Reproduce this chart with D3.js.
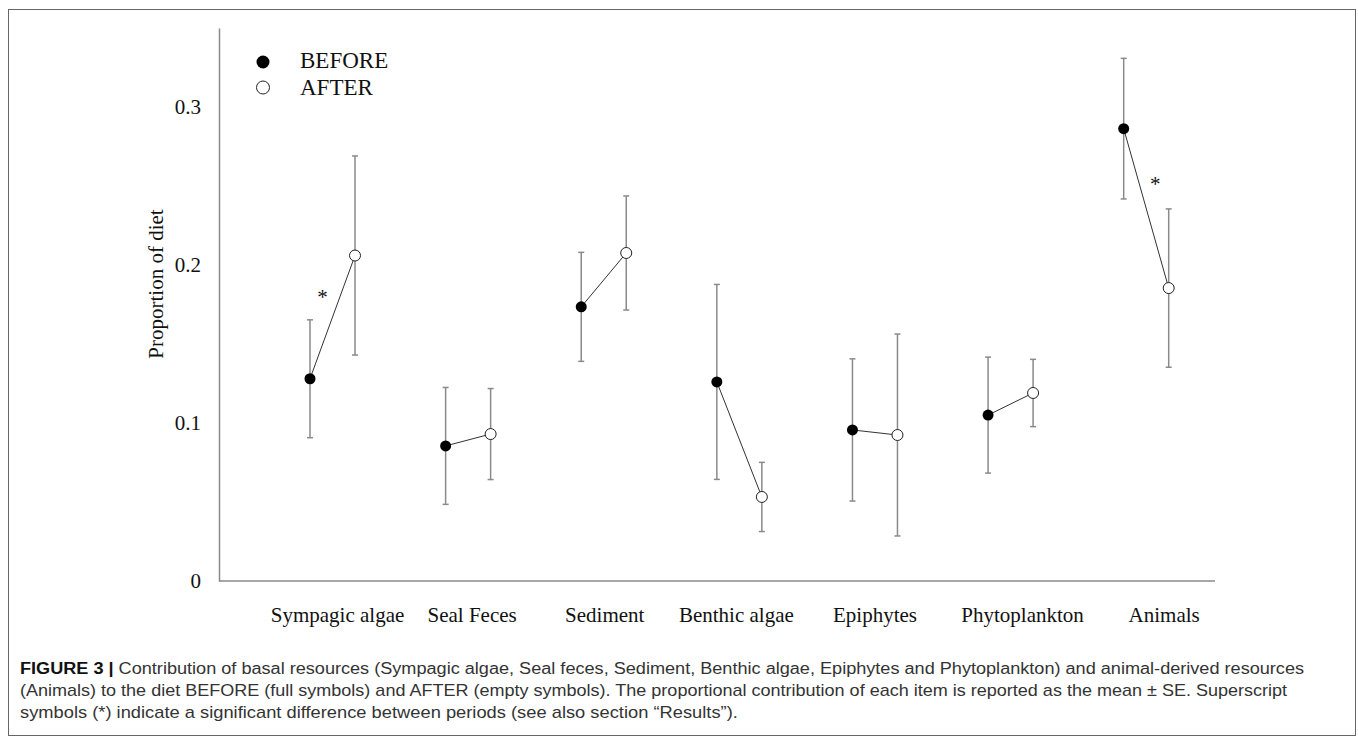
<!DOCTYPE html>
<html>
<head>
<meta charset="utf-8">
<script src="https://cdn.jsdelivr.net/npm/d3@7"></script>
<style>
  body { margin: 0; background: #fff; }
</style>
</head>
<body>
<div id="chart"></div>
<script>
// data
var categories = ["Sympagic algae", "Seal Feces", "Sediment", "Benthic algae", "Epiphytes", "Phytoplankton", "Animals"];
var beforeMean = [0.128, 0.0855, 0.1735, 0.126, 0.0956, 0.105, 0.2863];
var beforeSE = [0.0373, 0.037, 0.0345, 0.0617, 0.045, 0.0367, 0.0445];
var afterMean = [0.206, 0.093, 0.2076, 0.0532, 0.0924, 0.119, 0.1854];
var afterSE = [0.063, 0.0288, 0.0361, 0.0219, 0.0639, 0.0213, 0.0501];
var yTicks = [0, 0.1, 0.2, 0.3];
var sigCategories = ["Sympagic algae", "Animals"];
var sigValues = [0.181, 0.2525];
var legendLabels = ["BEFORE", "AFTER"];
var yLabel = "Proportion of diet";
var captionLines = [
    [["FIGURE 3 | ", true], ["Contribution of basal resources (Sympagic algae, Seal feces, Sediment, Benthic algae, Epiphytes and Phytoplankton) and animal-derived resources", false]],
    [["(Animals) to the diet BEFORE (full symbols) and AFTER (empty symbols). The proportional contribution of each item is reported as the mean \u00b1 SE. Superscript", false]],
    [["symbols (*) indicate a significant difference between periods (see also section \u201cResults\u201d).", false]]
];

var W = 1358, H = 744;
var serif = "'Liberation Serif', 'Times New Roman', serif";

var svg = d3.select("#chart")
    .append("svg")
    .attr("width", W)
    .attr("height", H);

// frame around figure + caption
svg.append("rect")
    .attr("x", 8.5).attr("y", 9.5)
    .attr("width", 1347).attr("height", 726)
    .attr("fill", "none")
    .attr("stroke", "#666")
    .attr("stroke-width", 1);

var plotLeft = 219, plotRight = 1215, plotTop = 28, plotBottom = 581;

var x = d3.scaleBand()
    .domain(categories)
    .range([264.7, 1214]);

var y = d3.scaleLinear()
    .domain([0, 0.35])
    .range([plotBottom, plotTop]);

var offset = 22.5; // before / after shift inside a category

// Y axis
var yAxis = svg.append("g")
    .attr("transform", "translate(" + plotLeft + ",0)")
    .call(d3.axisLeft(y).tickValues(yTicks).tickSize(0).tickSizeOuter(0).tickPadding(18)
        .tickFormat(function (d) { return d === 0 ? "0" : d3.format(".1f")(d); }));
yAxis.select(".domain").attr("stroke", "#8a8a8a").attr("stroke-width", 1.5);
yAxis.selectAll("text").attr("font-family", serif).attr("font-size", 21).attr("fill", "#111");

// X axis (labels were placed by hand in the original, nudge them a little)
var labelShift = { "Sympagic algae": 5, "Seal Feces": 4, "Sediment": 1, "Benthic algae": -3,
    "Epiphytes": 0, "Phytoplankton": 12, "Animals": 18 };
var xAxis = svg.append("g")
    .attr("transform", "translate(0," + plotBottom + ")")
    .call(d3.axisBottom(x).tickSize(0).tickPadding(26));
xAxis.select(".domain").remove();
xAxis.selectAll("text")
    .attr("font-family", serif).attr("font-size", 21).attr("fill", "#111")
    .attr("dx", function (d) { return labelShift[d]; });
xAxis.append("line")
    .attr("x1", plotLeft).attr("x2", plotRight)
    .attr("y1", 0).attr("y2", 0)
    .attr("stroke", "#8a8a8a")
    .attr("stroke-width", 1.5);

// y label
svg.append("text")
    .attr("transform", "translate(163,284) rotate(-90)")
    .attr("text-anchor", "middle")
    .attr("font-family", serif)
    .attr("font-size", 21)
    .attr("fill", "#111")
    .text(yLabel);

var rows = categories.map(function (c, i) {
    return {
        cat: c,
        bx: x(c) + x.bandwidth() / 2 - offset,
        ax: x(c) + x.bandwidth() / 2 + offset,
        b: beforeMean[i], bse: beforeSE[i],
        a: afterMean[i], ase: afterSE[i]
    };
});

// error bars
function errorBar(g, cx, m, se) {
    var cap = 3;
    g.append("line").attr("x1", cx).attr("x2", cx)
        .attr("y1", y(m - se)).attr("y2", y(m + se));
    g.append("line").attr("x1", cx - cap).attr("x2", cx + cap)
        .attr("y1", y(m + se)).attr("y2", y(m + se));
    g.append("line").attr("x1", cx - cap).attr("x2", cx + cap)
        .attr("y1", y(m - se)).attr("y2", y(m - se));
}
var bars = svg.append("g").attr("stroke", "#8a8a8a").attr("stroke-width", 1.5);
rows.forEach(function (r) {
    errorBar(bars, r.bx, r.b, r.bse);
    errorBar(bars, r.ax, r.a, r.ase);
});

// connecting lines
svg.append("g").selectAll("line")
    .data(rows)
    .enter().append("line")
    .attr("x1", function (d) { return d.bx; })
    .attr("y1", function (d) { return y(d.b); })
    .attr("x2", function (d) { return d.ax; })
    .attr("y2", function (d) { return y(d.a); })
    .attr("stroke", "#333")
    .attr("stroke-width", 1);

// points
svg.append("g").selectAll("circle")
    .data(rows)
    .enter().append("circle")
    .attr("cx", function (d) { return d.bx; })
    .attr("cy", function (d) { return y(d.b); })
    .attr("r", 5.5)
    .attr("fill", "#000");
svg.append("g").selectAll("circle")
    .data(rows)
    .enter().append("circle")
    .attr("cx", function (d) { return d.ax; })
    .attr("cy", function (d) { return y(d.a); })
    .attr("r", 5.5)
    .attr("fill", "#fff")
    .attr("stroke", "#222")
    .attr("stroke-width", 1);

// significance stars (placed on the open side of the connecting line)
var starShift = { "Sympagic algae": -10, "Animals": 9 };
sigCategories.forEach(function (c, i) {
    svg.append("text")
        .attr("x", x(c) + x.bandwidth() / 2 + starShift[c])
        .attr("y", y(sigValues[i]) + 9)
        .attr("text-anchor", "middle")
        .attr("font-family", serif)
        .attr("font-size", 21)
        .attr("fill", "#111")
        .text("*");
});

// legend
var legend = svg.append("g");
legendLabels.forEach(function (l, i) {
    legend.append("circle")
        .attr("cx", 263).attr("cy", 62 + i * 25.5)
        .attr("r", 6.5)
        .attr("fill", i === 0 ? "#000" : "#fff")
        .attr("stroke", i === 0 ? "none" : "#222")
        .attr("stroke-width", 1);
    legend.append("text")
        .attr("x", 300).attr("y", 68 + i * 27)
        .attr("font-family", serif)
        .attr("font-size", 23)
        .attr("fill", "#111")
        .text(l);
});

// caption
var captionWidths = [1285, 1268, 718];
captionLines.forEach(function (parts, i) {
    var t = svg.append("text")
        .attr("x", 0).attr("y", 0)
        .attr("font-family", "'Liberation Sans', Arial, sans-serif")
        .attr("font-size", 16)
        .attr("fill", "#333");
    parts.forEach(function (p) {
        t.append("tspan")
            .attr("font-weight", p[1] ? "bold" : "normal")
            .attr("fill", p[1] ? "#111" : "#333")
            .text(p[0]);
    });
    var w = t.node().getComputedTextLength();
    t.attr("transform", "translate(20," + (674 + i * 22) + ") scale(" + (captionWidths[i] / w) + ",1)");
});
</script>
</body>
</html>
